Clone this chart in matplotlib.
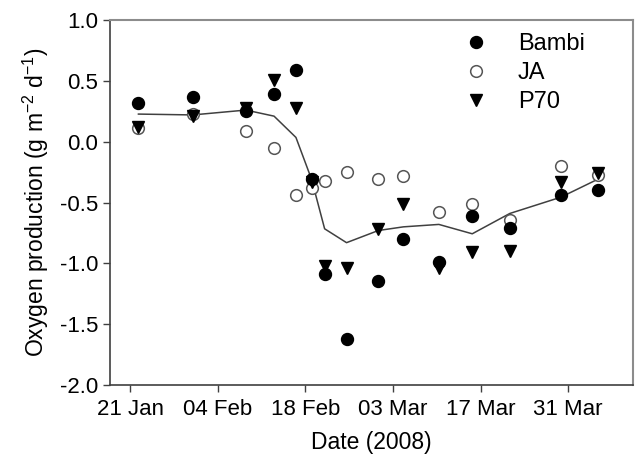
import matplotlib
matplotlib.use('Agg')
import matplotlib.pyplot as plt
import matplotlib.dates as mdates
import pandas as pd

plt.rcParams['font.family'] = ['Liberation Sans', 'DejaVu Sans']
plt.rcParams['axes.unicode_minus'] = False
plt.rcParams['mathtext.default'] = 'regular'

# sampling dates (some read as half days off the picture)
dates = ['2008-01-22 08:00', '2008-01-31 00:00', '2008-02-08 12:00', '2008-02-13 00:00',
         '2008-02-16 12:00', '2008-02-19 00:00', '2008-02-21 02:00', '2008-02-24 14:00',
         '2008-02-29 16:00', '2008-03-04 16:00', '2008-03-10 08:00',
         '2008-03-15 16:00', '2008-03-21 16:00', '2008-03-29 20:00',
         '2008-04-04 20:00']

bambi = [0.32, 0.37, 0.25, 0.39, 0.59, -0.31, -1.085, -1.62, -1.145, -0.80,
         -0.99, -0.607, -0.71, -0.44, -0.396]
ja = [0.115, 0.23, 0.09, -0.055, -0.44, -0.38, -0.325, -0.25, -0.31, -0.28,
      -0.58, -0.516, -0.64, -0.197, -0.27]
p70 = [0.12, 0.21, 0.28, 0.51, 0.28, -0.33, -1.02, -1.04, -0.72, -0.51,
       -1.04, -0.907, -0.90, -0.33, -0.26]
# mean line
mean_line = [0.227, 0.22, 0.26, 0.21, 0.035, -0.31, -0.716, -0.83, -0.73,
             -0.70, -0.68, -0.757, -0.59, -0.456, -0.306]

tick_dates = ['2008-01-21', '2008-02-04', '2008-02-18', '2008-03-03',
              '2008-03-17', '2008-03-31']
yticks = [1.0, 0.5, 0.0, -0.5, -1.0, -1.5, -2.0]

d = pd.to_datetime(dates, format='%Y-%m-%d %H:%M')

fig = plt.figure(figsize=(6.38, 4.66), dpi=100)
ax = fig.add_axes([0.1724, 0.1738, 0.8196, 0.7832])

ax.plot(d, mean_line, '-', color='#404040', lw=1.1, zorder=1)
ax.plot(d, bambi, 'o', ms=8.6, color='black', ls='none', label='Bambi', zorder=3)
ax.plot(d, ja, 'o', ms=8.4, mfc='white', mec='#555555', mew=1.1, ls='none',
        label='JA', zorder=2)
ax.plot(d, p70, 'v', ms=9, color='black', ls='none', label='P70', zorder=3)

ax.set_xlim(pd.Timestamp('2008-01-17 19:00'), pd.Timestamp('2008-04-10 08:00'))
ax.set_ylim(-2.0, 1.0)
ax.set_xticks(pd.to_datetime(tick_dates))
ax.xaxis.set_major_formatter(mdates.DateFormatter('%d %b'))
ax.set_yticks(yticks)
ax.set_yticklabels(['%.1f' % v for v in yticks])

ax.tick_params(labelsize=16, length=5, width=1, color='#404040', direction='out')
ax.tick_params(axis='x', pad=5)
ax.set_xlabel('Date (2008)', fontsize=16.5, labelpad=8)
ax.set_ylabel('Oxygen production (g m$^{-2}$ d$^{-1}$)', fontsize=16.5, labelpad=6)

for s in ['top', 'right']:
    ax.spines[s].set_color('#8c8c8c')
    ax.spines[s].set_linewidth(1.5)
for s in ['left', 'bottom']:
    ax.spines[s].set_color('#404040')
    ax.spines[s].set_linewidth(1.2)

ax.legend(loc='upper left', bbox_to_anchor=(0.66, 0.99), bbox_transform=ax.transAxes,
          frameon=False, fontsize=17, handletextpad=1.25, labelspacing=0.3,
          borderaxespad=0, markerscale=1.0, handlelength=1.0)

fig.savefig('out.png', dpi=100)
